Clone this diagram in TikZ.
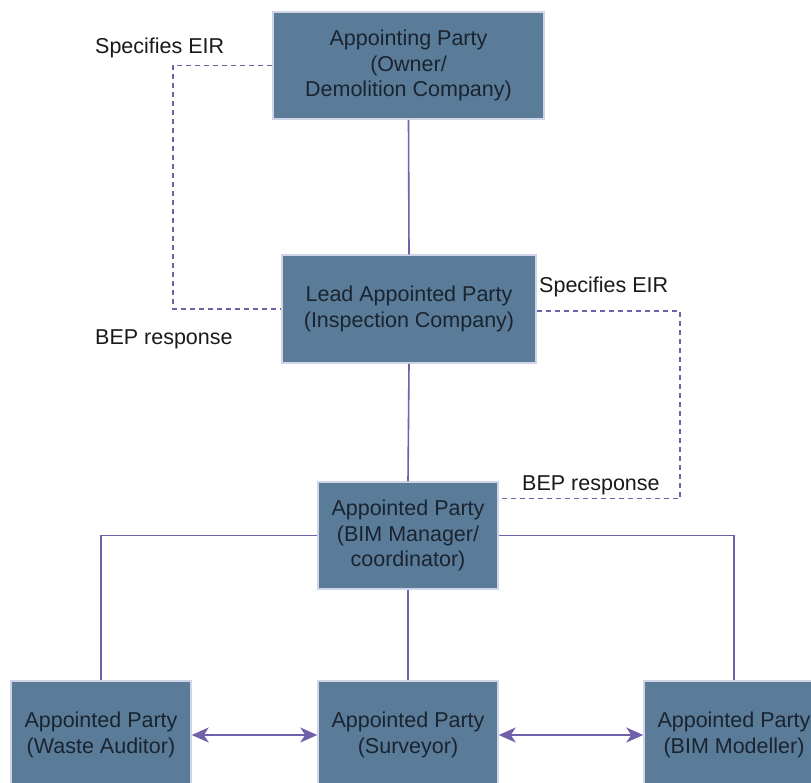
\documentclass[tikz,border=0pt]{standalone}
\usepackage{fontspec}
\setmainfont{Liberation Sans}
\usetikzlibrary{arrows.meta}

\definecolor{boxfill}{RGB}{90,124,153}
\definecolor{boxedge}{RGB}{208,212,232}
\definecolor{boxtext}{RGB}{26,36,48}
\definecolor{linkcol}{RGB}{112,96,170}
\definecolor{lbltext}{RGB}{26,26,26}

\tikzset{
  party/.style={draw=boxedge, line width=1.5pt, fill=boxfill, text=boxtext,
    align=center, inner sep=0pt,
    font=\fontsize{21.5}{25.5}\selectfont},
  link/.style={draw=linkcol, line width=1.6pt},
  dashlink/.style={draw=linkcol, line width=1.4pt, dash pattern=on 5pt off 4pt},
  twoway/.style={link, {Stealth[length=17pt,width=15pt,inset=5pt]}-{Stealth[length=17pt,width=15pt,inset=5pt]}},
  lbl/.style={text=lbltext, inner sep=0pt, anchor=base west,
    font=\fontsize{21.5}{25.5}\selectfont}
}

\begin{document}
\begin{tikzpicture}[x=1pt,y=-1pt]
\useasboundingbox (0,0) rectangle (811,782);
\fill[white] (0,0) rectangle (811,782);
\clip (0,0) rectangle (811,782);

% parties
\node[party, minimum width=271pt, minimum height=107pt] (owner) at (408.5,65.5)
  {Appointing Party\\(Owner/\\Demolition Company)};
\node[party, minimum width=254pt, minimum height=108pt] (lead) at (409,309)
  {Lead Appointed Party\\(Inspection Company)};
\node[party, minimum width=180pt, minimum height=107pt] (bim) at (408,535.5)
  {Appointed Party\\(BIM Manager/\\coordinator)};
\node[party, minimum width=180pt, minimum height=108pt] (waste) at (101,735)
  {Appointed Party\\(Waste Auditor)};
\node[party, minimum width=180pt, minimum height=108pt] (survey) at (408,735)
  {Appointed Party\\(Surveyor)};
\node[party, minimum width=180pt, minimum height=108pt] (model) at (734,735)
  {Appointed Party\\(BIM Modeller)};

% hierarchy
\draw[link] (owner.south) -- (lead.north);
\draw[link] (lead.south) -- (bim.north);
\draw[link] (bim.south) -- (survey.north);
\draw[link] (bim.west) -| (waste.north);
\draw[link] (bim.east) -| (model.north);

% information exchange between the appointed parties
\draw[twoway] (waste.east) -- (survey.west);
\draw[twoway] (survey.east) -- (model.west);

% EIR / BEP loops
\coordinate (leftrail) at (173,0);
\coordinate (rightrail) at (680,0);
\coordinate (bimport) at ([yshift=-17pt]bim.north east);
\draw[dashlink] (owner.west) -- (owner.west -| leftrail) |- (lead.west);
\draw[dashlink] ([yshift=-2pt]lead.east) -- ([yshift=-2pt]lead.east -| rightrail) |- (bimport);

\node[lbl] (eirtop) at (95,53) {Specifies EIR};
\node[lbl] (beptop) at (95,344) {BEP response};
\node[lbl] (eirlow) at (539,292) {Specifies EIR};
\node[lbl] (beplow) at (522,490) {BEP response};
\end{tikzpicture}
\end{document}
